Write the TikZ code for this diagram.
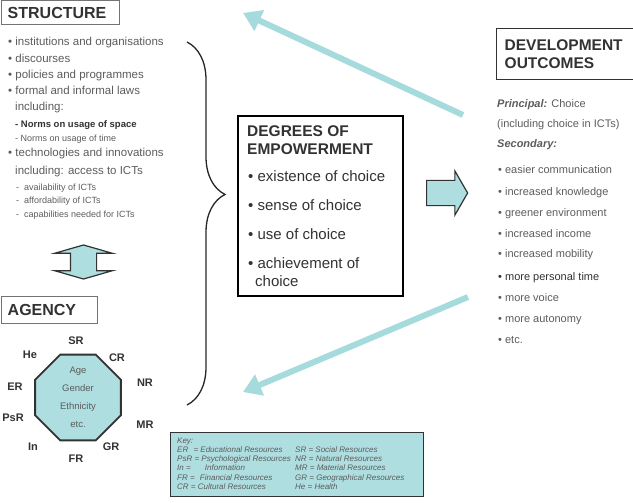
\documentclass[tikz,border=0pt]{standalone}
\usepackage{fontspec}
\setmainfont{Liberation Sans}
\usetikzlibrary{shapes.geometric,shapes.arrows,arrows.meta,decorations.pathreplacing}
\definecolor{tealfill}{RGB}{174,222,224}
\definecolor{tealline}{RGB}{166,219,221}
\definecolor{txtgrey}{RGB}{92,92,92}
\definecolor{darkgrey}{RGB}{50,50,50}
\definecolor{boxgrey}{RGB}{115,115,115}
\tikzset{
	titlebox/.style = {draw=boxgrey, line width=1.4pt, inner ysep=0pt, align=left, text=darkgrey, font=\fontsize{16}{18}\selectfont\bfseries},
	item/.style = {anchor=base west, inner sep=0pt, text=txtgrey, font=\fontsize{11.5}{13}\selectfont},
	subitem/.style = {item, font=\fontsize{9}{10}\selectfont},
	devitem/.style = {item, font=\fontsize{11}{13}\selectfont},
	choiceitem/.style = {item, text=darkgrey, font=\fontsize{15}{17}\selectfont},
	choicehead/.style = {item, text=darkgrey, font=\fontsize{15.5}{17}\selectfont\bfseries},
	reslabel/.style = {inner sep=0pt, text=darkgrey, font=\fontsize{11}{12}\selectfont\bfseries},
	keytext/.style = {anchor=base west, inner sep=0pt, text=txtgrey, font=\fontsize{8}{9}\selectfont\itshape},
	feedback/.style = {draw=tealline, line width=6pt, -{Triangle[width=22pt,length=18pt]}}
}
\begin{document}
\begin{tikzpicture}[x=1pt, y=-1pt]
\useasboundingbox (0,0) rectangle (633,503);

\node [titlebox, anchor=north west, minimum width=118pt, minimum height=24pt, text width=106pt, inner xsep=6pt] (structure) at (1,0) {STRUCTURE};
\node [item] (s1) at (8,46) {\textbullet\ institutions and organisations};
\node [item] (s2) at (8,62.5) {\textbullet\ discourses};
\node [item] (s3) at (8,78.5) {\textbullet\ policies and programmes};
\node [item] (s4) at (8,95) {\textbullet\ formal and informal laws};
\node [item] (s5) at (15,111) {including:};
\node [subitem, text=darkgrey, font=\fontsize{9.5}{10}\selectfont\bfseries] (s6) at (15,128) {- Norms on usage of space};
\node [subitem] (s7) at (15,141.5) {- Norms on usage of time};
\node [item] (s8) at (8,157) {\textbullet\ technologies and innovations};
\node [item] (s9) at (15,175) {including: access to ICTs};
\node [subitem] (s10) at (16,190.5) {-\hspace{5pt}availability of ICTs};
\node [subitem] (s11) at (16,204) {-\hspace{5pt}affordability of ICTs};
\node [subitem] (s12) at (16,218) {-\hspace{5pt}capabilities needed for ICTs};

\node [double arrow, rotate=90, draw=darkgrey, line width=1.2pt, fill=tealfill, minimum height=34pt, inner xsep=0pt, inner ysep=12.5pt, double arrow head extend=16pt, double arrow tip angle=148] (linkarrow) at (83.5,262) {};

\node [titlebox, anchor=north west, minimum width=96pt, minimum height=27pt, text width=84pt, inner xsep=6pt] (agency) at (1,296) {AGENCY};
\node [regular polygon, regular polygon sides=8, minimum size=89pt, draw=darkgrey, line width=1.8pt, fill=tealfill, inner sep=0pt, align=center, text=txtgrey, font=\fontsize{9.5}{18}\selectfont] (octo) at (78,397.5) {Age\\Gender\\Ethnicity\\etc.};
\node [reslabel] (sr) at (76,341) {SR};
\node [reslabel] (cr) at (117,358) {CR};
\node [reslabel] (nr) at (145,383) {NR};
\node [reslabel] (mr) at (145,425) {MR};
\node [reslabel] (gr) at (111,447) {GR};
\node [reslabel] (fr) at (76,459) {FR};
\node [reslabel] (in) at (33,447) {In};
\node [reslabel] (psr) at (13,418) {PsR};
\node [reslabel] (er) at (15,387) {ER};
\node [reslabel] (he) at (30,355) {He};

\coordinate (bracetop) at (187,42);
\coordinate (bracebottom) at (187,405);
\draw [decorate, decoration={brace, amplitude=38pt, aspect=0.42}, line width=1.3pt, black!85] (bracetop) -- (bracebottom);

\node [draw=black, line width=1.8pt, anchor=north west, minimum width=165pt, minimum height=180pt, inner sep=0pt] (degrees) at (237,115) {};
\node [choicehead] (d1) at (247,137) {DEGREES OF};
\node [choicehead] (d2) at (247,154) {EMPOWERMENT};
\node [choiceitem] (d3) at (248,182) {\textbullet\ existence of choice};
\node [choiceitem] (d4) at (248,211) {\textbullet\ sense of choice};
\node [choiceitem] (d5) at (248,239) {\textbullet\ use of choice};
\node [choiceitem] (d6) at (248,268) {\textbullet\ achievement of};
\node [choiceitem] (d7) at (255,286) {choice};

\node [single arrow, draw=darkgrey, line width=1.2pt, fill=tealfill, minimum height=41pt, inner xsep=0pt, inner ysep=12pt, single arrow head extend=9.5pt, single arrow tip angle=120] (forward) at (443.5,193) {};

\node [titlebox, draw=darkgrey, anchor=north west, minimum width=150pt, minimum height=51pt, text width=136pt, inner xsep=8pt, font=\fontsize{15.5}{18}\selectfont\bfseries] (outcomes) at (496,28) {DEVELOPMENT\\OUTCOMES};
\node [devitem] (o1) at (497,108) {\textbf{\textit{Principal:}} Choice};
\node [devitem] (o2) at (497,128) {(including choice in ICTs)};
\node [devitem] (o3) at (497,148) {\textbf{\textit{Secondary:}}};
\node [devitem] (o4) at (498,174) {\textbullet\ easier communication};
\node [devitem] (o5) at (498,195) {\textbullet\ increased knowledge};
\node [devitem] (o6) at (498,216) {\textbullet\ greener environment};
\node [devitem] (o7) at (498,237) {\textbullet\ increased income};
\node [devitem] (o8) at (498,258) {\textbullet\ increased mobility};
\node [devitem, text=darkgrey] (o9) at (498,280) {\textbullet\ more personal time};
\node [devitem] (o10) at (498,301) {\textbullet\ more voice};
\node [devitem] (o11) at (498,322) {\textbullet\ more autonomy};
\node [devitem] (o12) at (498,343) {\textbullet\ etc.};

\coordinate (toptail) at (463,115);
\coordinate (toptip) at (243,13);
\coordinate (lowtail) at (468,297);
\coordinate (lowtip) at (243,392);
\draw [feedback] (toptail) -- (toptip);
\draw [feedback] (lowtail) -- (lowtip);

\node [draw=darkgrey, line width=1.3pt, fill=tealfill, anchor=north west, minimum width=253pt, minimum height=64pt, inner sep=0pt] (key) at (170,432) {};
\node [keytext] (k0) at (177,443) {Key:};
\node [keytext] (k1) at (177,452.3) {ER\hspace{3pt} = Educational Resources};
\node [keytext] (k2) at (177,461.6) {PsR = Psychological Resources};
\node [keytext] (k3) at (177,470.9) {In =\hspace{12pt} Information};
\node [keytext] (k4) at (177,480.2) {FR =\hspace{3pt} Financial Resources};
\node [keytext] (k5) at (177,489.5) {CR = Cultural Resources};
\node [keytext] (k6) at (295,452.3) {SR = Social Resources};
\node [keytext] (k7) at (295,461.6) {NR = Natural Resources};
\node [keytext] (k8) at (295,470.9) {MR = Material Resources};
\node [keytext] (k9) at (295,480.2) {GR = Geographical Resources};
\node [keytext] (k10) at (295,489.5) {He = Health};
\end{tikzpicture}
\end{document}
